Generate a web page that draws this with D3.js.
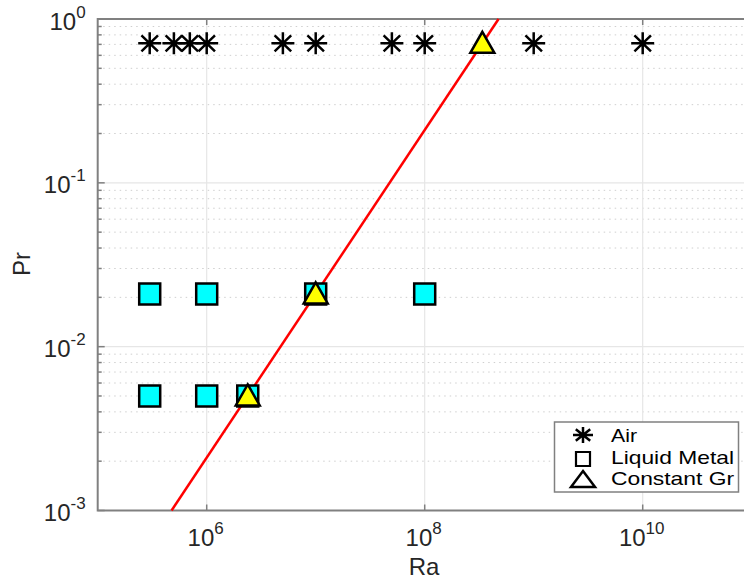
<!DOCTYPE html>
<head>
    <script src="https://d3js.org/d3.v7.min.js"></script>
</head>
<style>
body { margin: 0; background: #fff; }
svg text { font-family: "Liberation Sans", Arial, Helvetica, sans-serif; fill: #262626; }
</style>
<body>
<svg></svg>
<script>
    // data
    var airRa = [3e5, 5e5, 7e5, 1e6, 5e6, 1e7, 5e7, 1e8, 1e9, 1e10];
    var airPr = [0.71, 0.71, 0.71, 0.71, 0.71, 0.71, 0.71, 0.71, 0.71, 0.71];
    var metalRa = [3e5, 1e6, 1e7, 1e8, 3e5, 1e6, 2.38e6];
    var metalPr = [0.021, 0.021, 0.021, 0.021, 0.005, 0.005, 0.005];
    var grRa = [2.38e6, 1e7, 3.38e8];
    var grPr = [0.005, 0.021, 0.71];
    var lineRa = [4.76e5, 4.76e8];   // constant Gr line ends
    var linePr = [1e-3, 1];
    var xTicks = [1e6, 1e8, 1e10];
    var yTicks = [1e-3, 1e-2, 1e-1, 1];
    var legendNames = ["Air", "Liquid Metal", "Constant Gr"];

    var width = 744, height = 581;
    var svg = d3.select('svg').attr('width', width).attr('height', height);

    var x = d3.scaleLog().domain([1e5, 1e11]).range([97.7, 751.7]);
    var y = d3.scaleLog().domain([1e-3, 1]).range([510.5, 19]);

    var x0 = x.range()[0], x1 = x.range()[1], y0 = y.range()[0], y1 = y.range()[1];

    // minor y grid (dotted)
    var minorY = [];
    yTicks.slice(0, -1).forEach(function (t) {
        for (var k = 2; k <= 9; k++) minorY.push(t * k);
    });
    svg.append('g').selectAll('line').data(minorY).enter().append('line')
        .attr('x1', x0).attr('x2', x1)
        .attr('y1', function (d) { return y(d); }).attr('y2', function (d) { return y(d); })
        .attr('stroke', '#cfcfcf').attr('stroke-width', 1).attr('stroke-dasharray', '1.5,4');

    // major grid
    svg.append('g').selectAll('line').data(yTicks).enter().append('line')
        .attr('x1', x0).attr('x2', x1)
        .attr('y1', function (d) { return y(d); }).attr('y2', function (d) { return y(d); })
        .attr('stroke', '#e6e6e6').attr('stroke-width', 1.2);
    svg.append('g').selectAll('line').data(xTicks).enter().append('line')
        .attr('y1', y0).attr('y2', y1)
        .attr('x1', function (d) { return x(d); }).attr('x2', function (d) { return x(d); })
        .attr('stroke', '#e6e6e6').attr('stroke-width', 1.2);

    // axes box and ticks
    var axisColor = '#808080';
    svg.append('path')
        .attr('d', 'M' + x1 + ',' + y1 + 'H' + x0 + 'V' + y0 + 'H' + x1)
        .attr('fill', 'none').attr('stroke', axisColor).attr('stroke-width', 2);

    var tk = svg.append('g').attr('stroke', axisColor).attr('stroke-width', 1.5);
    xTicks.forEach(function (t) {
        tk.append('line').attr('x1', x(t)).attr('x2', x(t)).attr('y1', y0).attr('y2', y0 - 6);
        tk.append('line').attr('x1', x(t)).attr('x2', x(t)).attr('y1', y1).attr('y2', y1 + 6);
    });
    yTicks.forEach(function (t) {
        tk.append('line').attr('x1', x0).attr('x2', x0 + 7).attr('y1', y(t)).attr('y2', y(t));
    });
    minorY.forEach(function (t) {
        tk.append('line').attr('x1', x0).attr('x2', x0 + 4).attr('y1', y(t)).attr('y2', y(t));
    });

    // tick labels
    function powLabel(g, exp, px, py, anchor) {
        var t = g.append('text').attr('x', px).attr('y', py).attr('text-anchor', anchor)
            .style('font-size', '24px');
        t.append('tspan').text('10');
        t.append('tspan').attr('dy', -12).style('font-size', '17px').text(exp);
    }
    var lab = svg.append('g');
    xTicks.forEach(function (t) {
        powLabel(lab, Math.round(Math.log10(t)), x(t) - 1, y0 + 35, 'middle');
    });
    yTicks.forEach(function (t) {
        powLabel(lab, Math.round(Math.log10(t)), x0 - 12, y(t) + 10.5, 'end');
    });

    svg.append('text').attr('x', 424).attr('y', 575).attr('text-anchor', 'middle')
        .style('font-size', '24px').text('Ra');
    svg.append('text').attr('transform', 'translate(30,264)rotate(-90)').attr('text-anchor', 'middle')
        .style('font-size', '24px').text('Pr');

    // constant Gr line
    var line = d3.line().x(function (d) { return x(d[0]); }).y(function (d) { return y(d[1]); });
    svg.append('path').datum(d3.zip(lineRa, linePr)).attr('d', line)
        .attr('fill', 'none').attr('stroke', '#ff0000').attr('stroke-width', 2.5);

    // marker shapes
    function starPath(rx, ry) {
        var dx = rx * 0.72, dy = ry * 0.72;
        return 'M' + (-rx) + ',0H' + rx + 'M0,' + (-ry) + 'V' + ry +
            'M' + (-dx) + ',' + (-dy) + 'L' + dx + ',' + dy + 'M' + (-dx) + ',' + dy + 'L' + dx + ',' + (-dy);
    }
    function squarePath(h) { return 'M' + (-h) + ',' + (-h) + 'H' + h + 'V' + h + 'H' + (-h) + 'Z'; }
    function triPath(w, h) {
        return 'M0,' + (-h / 2) + 'L' + (w / 2) + ',' + (h / 2) + 'H' + (-w / 2) + 'Z';
    }

    var marks = svg.append('g');
    marks.selectAll('.sq').data(d3.zip(metalRa, metalPr)).enter().append('path')
        .attr('class', 'sq')
        .attr('transform', function (d) { return 'translate(' + x(d[0]) + ',' + y(d[1]) + ')'; })
        .attr('d', squarePath(10.5)).attr('fill', '#00ffff').attr('stroke', '#000').attr('stroke-width', 2.5);
    marks.selectAll('.st').data(d3.zip(airRa, airPr)).enter().append('path')
        .attr('class', 'st')
        .attr('transform', function (d) { return 'translate(' + x(d[0]) + ',' + y(d[1]) + ')'; })
        .attr('d', starPath(11.5, 11)).attr('fill', 'none').attr('stroke', '#000').attr('stroke-width', 2.5);
    marks.selectAll('.tr').data(d3.zip(grRa, grPr)).enter().append('path')
        .attr('class', 'tr')
        .attr('transform', function (d) { return 'translate(' + x(d[0]) + ',' + (y(d[1]) - 1) + ')'; })
        .attr('d', triPath(24, 21)).attr('fill', '#ffff00').attr('stroke', '#000').attr('stroke-width', 2.5)
        .attr('stroke-linejoin', 'miter');

    // legend
    var lg = svg.append('g').attr('transform', 'translate(554.5,422)');
    lg.append('rect').attr('width', 184).attr('height', 70)
        .attr('fill', '#fff').attr('stroke', axisColor).attr('stroke-width', 1.5);
    var rowsY = [13, 37, 57];
    var lm = ['star', 'sq', 'tri'];
    legendNames.forEach(function (name, i) {
        var g = lg.append('g').attr('transform', 'translate(28.5,' + rowsY[i] + ')');
        if (lm[i] === 'star') g.append('path').attr('d', starPath(10, 8)).attr('fill', 'none').attr('stroke', '#000').attr('stroke-width', 2.5);
        if (lm[i] === 'sq') g.append('path').attr('d', squarePath(7)).attr('fill', 'none').attr('stroke', '#000').attr('stroke-width', 2.2);
        if (lm[i] === 'tri') g.append('path').attr('d', triPath(24, 16)).attr('fill', 'none').attr('stroke', '#000').attr('stroke-width', 2.5);
    });
    var legendBase = [20, 41.5, 63];
    var legendLen = [26, 123, 123];
    legendNames.forEach(function (name, i) {
        lg.append('text').attr('x', 56.5).attr('y', legendBase[i]).style('font-size', '18.5px')
            .attr('textLength', legendLen[i]).attr('lengthAdjust', 'spacingAndGlyphs')
            .style('fill', '#000').text(name);
    });
</script>
</body>
